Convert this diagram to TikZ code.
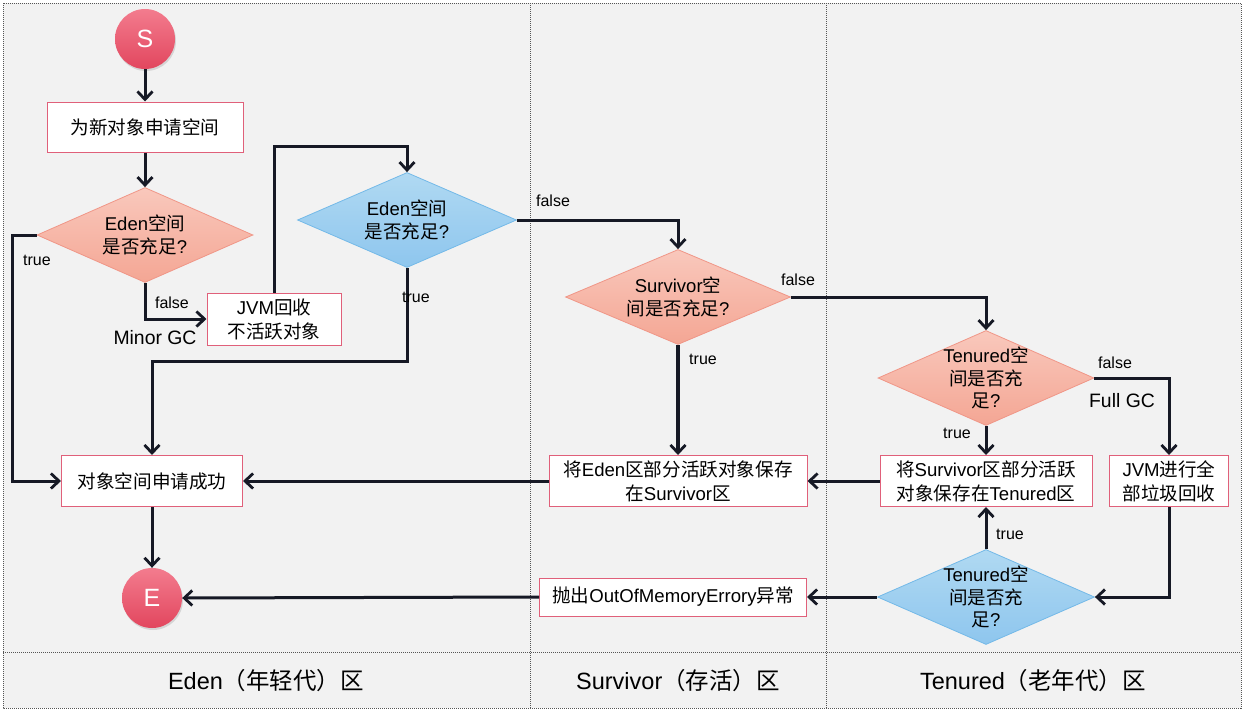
\documentclass[tikz,border=0pt]{standalone}
\usepackage{fontspec}
\setmainfont{Liberation Sans}
\newfontfamily\cjk{Noto Sans CJK SC}
\newcommand\zh[1]{{\cjk #1}}
\usetikzlibrary{arrows.meta,shapes.geometric,shadows}
\definecolor{bgc}{HTML}{F2F2F2}
\definecolor{boxred}{HTML}{E0607A}
\definecolor{navyl}{HTML}{161925}
\definecolor{lanec}{HTML}{555555}
\tikzset{
  lane/.style={draw=lanec,line width=0.9pt,dash pattern=on 1pt off 1pt},
  term/.style={circle,minimum size=60pt,inner sep=0pt,top color={rgb,255:red,243;green,124;blue,142},bottom color={rgb,255:red,226;green,70;blue,94},text=white,font=\fontsize{25}{27}\selectfont,drop shadow={opacity=0.25,shadow xshift=1pt,shadow yshift=-2pt}},
  box/.style={rectangle,draw=boxred,fill=white,line width=1pt,inner sep=0pt,align=center,font=\fontsize{18.6}{24}\selectfont},
  dia/.style={diamond,inner sep=0pt,line width=0.8pt,minimum width=216pt,minimum height=95pt},
  pink/.style={dia,draw={rgb,255:red,240;green,150;blue,135},top color={rgb,255:red,249;green,200;blue,188},bottom color={rgb,255:red,244;green,166;blue,148}},
  blue/.style={dia,draw={rgb,255:red,115;green,185;blue,232},top color={rgb,255:red,176;green,217;blue,242},bottom color={rgb,255:red,142;green,198;blue,238}},
  dtext/.style={align=center,inner sep=0pt,font=\fontsize{18.5}{22.5}\selectfont},
  arr/.style={draw=navyl,line width=3pt,-{Straight Barb[length=8pt,width=15pt,line width=2.8pt]}},
  lbl/.style={inner sep=0pt,font=\fontsize{16}{18}\selectfont},
  gc/.style={inner sep=0pt,font=\fontsize{19.4}{22}\selectfont},
  lanelbl/.style={inner sep=0pt,font=\fontsize{23.5}{26}\selectfont}
}
\begin{document}
\begin{tikzpicture}[x=1pt,y=-1pt]
\useasboundingbox (0,0) rectangle (1244,712);
\fill[white] (0,0) rectangle (1244,712);
\fill[bgc] (3,3) rectangle (1241,708);
\draw[lane] (3,3) rectangle (1241,708);
\draw[lane] (530,3) -- (530,708);
\draw[lane] (826,3) -- (826,708);
\draw[lane] (3,652) -- (1241,652);

\node[lanelbl] (L1) at (266,681) {Eden\zh{（年轻代）区}};
\node[lanelbl] (L2) at (678,681) {Survivor\zh{（存活）区}};
\node[lanelbl] (L3) at (1033,681) {Tenured\zh{（老年代）区}};

\node[term] (S) at (145,39) {S};
\node[box,minimum width=196pt,minimum height=50pt] (b1) at (145,127) {\zh{为新对象申请空间}};
\node[pink] (d1) at (145,235) {};
\node[dtext] (d1t) at (d1.center) {Eden\zh{空间}\\\zh{是否充足}?};
\node[box,minimum width=134pt,minimum height=52pt] (jvm) at (274,319) {JVM\zh{回收}\\\zh{不活跃对象}};
\node[blue,minimum width=219pt] (d2) at (407,220) {};
\node[dtext] (d2t) at (d2.center) {Eden\zh{空间}\\\zh{是否充足}?};
\node[box,minimum width=181pt,minimum height=51pt] (ok) at (152,481) {\zh{对象空间申请成功}};
\node[term] (E) at (152,598) {E};

\node[pink,minimum width=225pt] (d3) at (678,297) {};
\node[dtext] (d3t) at (d3.center) {Survivor\zh{空}\\\zh{间是否充足}?};
\node[box,minimum width=258pt,minimum height=51pt] (es) at (678,481) {\zh{将}Eden\zh{区部分活跃对象保存}\\\zh{在}Survivor\zh{区}};
\node[box,minimum width=267pt,minimum height=38pt] (oom) at (673,597) {\zh{抛出}OutOfMemoryErrory\zh{异常}};

\node[pink] (d4) at (986,378) {};
\node[dtext] (d4t) at (d4.center) {Tenured\zh{空}\\\zh{间是否充}\\\zh{足}?};
\node[box,minimum width=212pt,minimum height=51pt] (st) at (986,481) {\zh{将}Survivor\zh{区部分活跃}\\\zh{对象保存在}Tenured\zh{区}};
\node[box,minimum width=119pt,minimum height=51pt] (jf) at (1169,481) {JVM\zh{进行全}\\\zh{部垃圾回收}};
\node[blue,minimum width=217pt] (d5) at (986,597) {};
\node[dtext] (d5t) at (d5.center) {Tenured\zh{空}\\\zh{间是否充}\\\zh{足}?};

\draw[arr] (S) -- (b1);
\draw[arr] (b1) -- (d1);
\draw[arr] (d1.west) -- ++(-24,0) |- (ok.west);
\draw[arr] (d1.south) |- (jvm.west);
\draw[arr] (jvm.north) -- ++(0,-146) -| (d2.north);
\draw[arr] (d2.south) -- ++(0,94) -| (ok.north);
\draw[arr] (d2.east) -| (d3.north);
\draw[arr,line width=4.5pt] (d3.south) -- (es.north);
\draw[arr] (d3.east) -| (d4.north);
\draw[arr] (d4.south) -- (st.north);
\draw[arr] (d4.east) -| (jf.north);
\draw[arr] (jf.south) |- (d5.east);
\draw[arr] (d5.north) -- (st.south);
\draw[arr] (d5.west) -- (oom.east);
\draw[arr] (oom.west) -- (E.east);
\draw[arr] (st.west) -- (es.east);
\draw[arr] (es.west) -- (ok.east);
\draw[arr] (ok.south) -- (E.north);

\node[lbl] (t1) at (37,260) {true};
\node[lbl] (f1) at (172,303) {false};
\node[gc] (mgc) at (155,338) {Minor GC};
\node[lbl] (t2) at (416,297) {true};
\node[lbl] (f2) at (553,201) {false};
\node[lbl] (t3) at (703,359) {true};
\node[lbl] (f3) at (798,280) {false};
\node[lbl] (t4) at (957,433) {true};
\node[lbl] (f4) at (1115,363) {false};
\node[gc] (fgc) at (1122,401) {Full GC};
\node[lbl] (t5) at (1010,534) {true};
\end{tikzpicture}
\end{document}
